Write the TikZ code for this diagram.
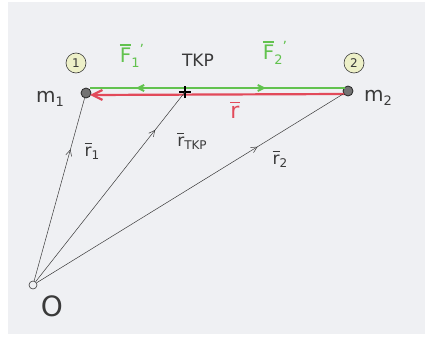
\documentclass[tikz,border=0pt]{standalone}
\usepackage{fontspec}
\setsansfont{DejaVu Sans}
\usetikzlibrary{arrows.meta,decorations.markings}
\definecolor{paper}{HTML}{EFF0F3}
\definecolor{pgreen}{HTML}{62C24E}
\definecolor{pred}{HTML}{E24A5A}
\definecolor{ink}{HTML}{3A3A3A}
\definecolor{tagfill}{HTML}{EDF0C8}
\newcommand{\fs}[1]{\fontsize{#1}{#1}\selectfont}
\newcommand{\ovl}[1]{\leavevmode\vbox{\hrule height 1.4pt\kern2.5pt\hbox{#1}}}
\tikzset{
  mass/.style={circle,draw=black!85,fill=black!55,line width=0.8pt,minimum size=10pt,inner sep=0pt},
  tag/.style={circle,draw=ink,fill=tagfill,line width=0.6pt,minimum size=20pt,inner sep=0pt,font=\sffamily\fs{12},text=ink},
  lbl/.style={font=\sffamily,text=ink,inner sep=1pt},
  vec/.style={draw=ink,line width=0.5pt},
  midarrow/.style={postaction={decorate},decoration={markings,mark=at position #1 with {\arrow{Straight Barb[length=6pt,width=6pt]}}}},
}
\begin{document}
\begin{tikzpicture}[x=1pt,y=-1pt]
\useasboundingbox (0,0) rectangle (425,345);
\fill[white] (0,0) rectangle (425,345);
\fill[paper] (8,2) rectangle (425,334);
% points
\node[mass] (m1) at (86,93) {};
\node[mass] (m2) at (348,91) {};
\node[circle,draw=ink,line width=0.6pt,minimum size=8pt,inner sep=0pt] (O) at (33,285) {};
\coordinate (tkp) at (185,92);
\coordinate (g1) at (90,88);
\coordinate (g2) at (345,88);
\coordinate (r1s) at (344,94);
\coordinate (r1e) at (90,95);
% force lines
\draw[pgreen,line width=2pt,midarrow=0.82] (g2) -- (g1);
\draw[pgreen,line width=2pt,midarrow=0.69] (g1) -- (g2);
\draw[pred,line width=2.2pt,-{Straight Barb[length=10pt,width=10pt]}] (r1s) -- (r1e);
% cross
\draw[black,line width=1.3pt] ([xshift=-6pt]tkp) -- ([xshift=6pt]tkp) ([yshift=-6pt]tkp) -- ([yshift=6pt]tkp);
% position vectors
\draw[vec,midarrow=0.72] (O) -- (m1);
\draw[vec,midarrow=0.80] (O) -- (tkp);
\draw[vec,midarrow=0.72] (O) -- (m2);
% labels
\node[tag] (t1) at (76,63) {1};
\node[tag] (t2) at (354,63) {2};
\node[lbl,font=\sffamily\fs{20}] (lm1) at (50,99) {m\raisebox{-4pt}{\fs{13}1}};
\node[lbl,font=\sffamily\fs{20}] (lm2) at (378,98) {m\raisebox{-4pt}{\fs{13}2}};
\node[lbl,font=\sffamily\fs{17}] (ltkp) at (198,60) {TKP};
\node[lbl,text=pgreen,font=\sffamily\fs{20}] (lf1) at (132,56) {\ovl{F}\raisebox{-5pt}{\fs{13}1}\raisebox{8pt}{\fs{14}'}};
\node[lbl,text=pgreen,font=\sffamily\fs{20}] (lf2) at (275,53) {\ovl{F}\raisebox{-5pt}{\fs{13}2}\raisebox{8pt}{\fs{14}'}};
\node[lbl,text=pred,font=\sffamily\fs{22}] (lr) at (235,110) {\ovl{r}};
\node[lbl,font=\sffamily\fs{17}] (lr1) at (92,151) {\ovl{r}\raisebox{-3pt}{\fs{12}1}};
\node[lbl,font=\sffamily\fs{17}] (lrt) at (192,141) {\ovl{r}\raisebox{-3pt}{\fs{12}TKP}};
\node[lbl,font=\sffamily\fs{17}] (lr2) at (280,159) {\ovl{r}\raisebox{-3pt}{\fs{12}2}};
\node[lbl,font=\sffamily\fs{28}] (lO) at (52,306) {O};
\end{tikzpicture}
\end{document}
